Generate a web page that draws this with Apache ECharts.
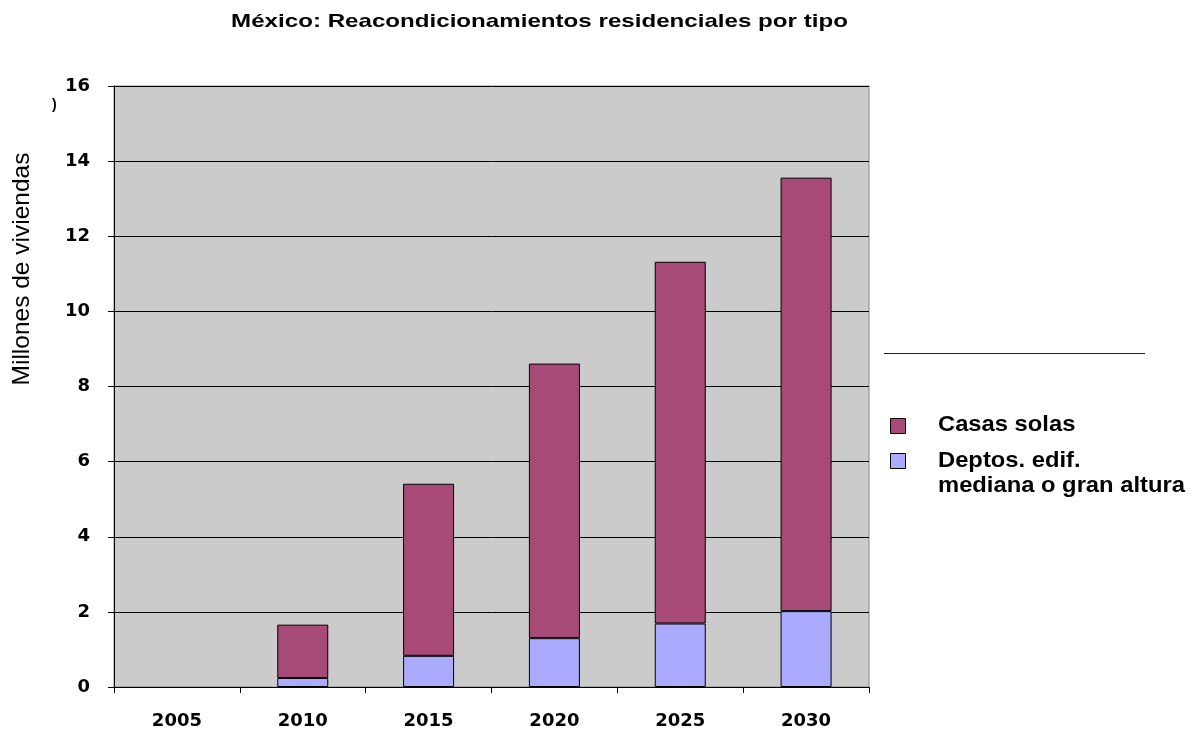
<!DOCTYPE html>
<html>
<head>
<meta charset="utf-8">
<script src="https://cdn.jsdelivr.net/npm/echarts@6/dist/echarts.min.js"></script>
<style>
  html, body { margin: 0; padding: 0; background: #fff; }
  #chart { width: 1198px; height: 735px; }
</style>
</head>
<body>
<div id="chart"></div>
<script>
// Years on the category axis
const years = ['2005', '2010', '2015', '2020', '2025', '2030'];
// Millions of dwellings, stacked per year
const deptos = [0, 0.24, 0.83, 1.30, 1.69, 2.02];
const casas  = [0, 1.42, 4.58, 7.31, 9.63, 11.54];

const nameCasas = 'Casas solas';
const nameDeptosLines = ['Deptos. edif.', 'mediana o gran altura'];
const titleText = 'México: Reacondicionamientos residenciales por tipo';
const yName = 'Millones de viviendas';

const colorCasas = '#A84A78';
const colorDeptos = '#AAAAFF';
const sans = '"Liberation Sans", Arial, sans-serif';
const wide = '"DejaVu Sans", sans-serif';

// zero-height segments get no outline
const withBorder = arr => arr.map(v => ({ value: v, itemStyle: { borderWidth: v === 0 ? 0 : 1 } }));

const chart = echarts.init(document.getElementById('chart'));

chart.setOption({
  animation: false,
  grid: {
    left: 114, right: 329, top: 86, bottom: 48,
    show: true, backgroundColor: '#CBCBCB', borderColor: '#888', borderWidth: 1
  },
  xAxis: {
    type: 'category',
    data: years,
    axisLine: { lineStyle: { color: '#000', width: 1 } },
    axisTick: { show: true, length: 6, lineStyle: { color: '#000' } },
    axisLabel: { fontFamily: wide, fontSize: 18, fontWeight: 'bold', color: '#000', margin: 25 }
  },
  yAxis: {
    type: 'value',
    min: 0, max: 16, interval: 2,
    axisLine: { show: true, lineStyle: { color: '#000', width: 1 } },
    axisTick: { show: true, length: 6, lineStyle: { color: '#000' } },
    axisLabel: { fontFamily: wide, fontSize: 18, fontWeight: 'bold', color: '#000', margin: 24 },
    splitLine: { show: true, lineStyle: { color: '#000', width: 1 } }
  },
  series: [
    {
      name: nameDeptosLines.join(' '), type: 'bar', stack: 'total', data: withBorder(deptos),
      barWidth: 51,
      itemStyle: { color: colorDeptos, borderColor: '#000', borderWidth: 1 }
    },
    {
      name: nameCasas, type: 'bar', stack: 'total', data: withBorder(casas),
      barWidth: 51,
      itemStyle: { color: colorCasas, borderColor: '#000', borderWidth: 1 }
    }
  ],
  graphic: [
    // title, drawn slightly widened
    { type: 'text', x: 539.5, y: 22, scaleX: 1.27,
      style: { text: titleText, x: 0, y: 0, align: 'center', verticalAlign: 'middle',
               font: 'bold 19px ' + sans, fill: '#000' } },
    // vertical axis title
    { type: 'text', x: 22, y: 269, rotation: Math.PI / 2,
      style: { text: yName, x: 0, y: 0, align: 'center', verticalAlign: 'middle',
               font: '24.5px ' + sans, fill: '#000' } },
    // small glyph beside the axis title
    { type: 'text', x: 52, y: 98, style: { text: ')', font: 'bold 14px ' + sans, fill: '#000' } },
    // separator line above the legend
    { type: 'line', shape: { x1: 884, y1: 353.5, x2: 1145, y2: 353.5 }, style: { stroke: '#222', lineWidth: 1 } },
    // legend
    { type: 'rect', shape: { x: 890.5, y: 418.5, width: 15, height: 15 },
      style: { fill: colorCasas, stroke: '#000', lineWidth: 1 } },
    { type: 'text', x: 938, y: 425, scaleX: 1.08,
      style: { text: nameCasas, x: 0, y: 0, verticalAlign: 'middle', font: 'bold 22px ' + sans, fill: '#000' } },
    { type: 'rect', shape: { x: 890.5, y: 453.5, width: 15, height: 15 },
      style: { fill: colorDeptos, stroke: '#000', lineWidth: 1 } },
    { type: 'text', x: 938, y: 460.5, scaleX: 1.08,
      style: { text: nameDeptosLines[0], x: 0, y: 0, verticalAlign: 'middle', font: 'bold 22px ' + sans, fill: '#000' } },
    { type: 'text', x: 938, y: 485.5, scaleX: 1.08,
      style: { text: nameDeptosLines[1], x: 0, y: 0, verticalAlign: 'middle', font: 'bold 22px ' + sans, fill: '#000' } }
  ]
});
</script>
</body>
</html>
